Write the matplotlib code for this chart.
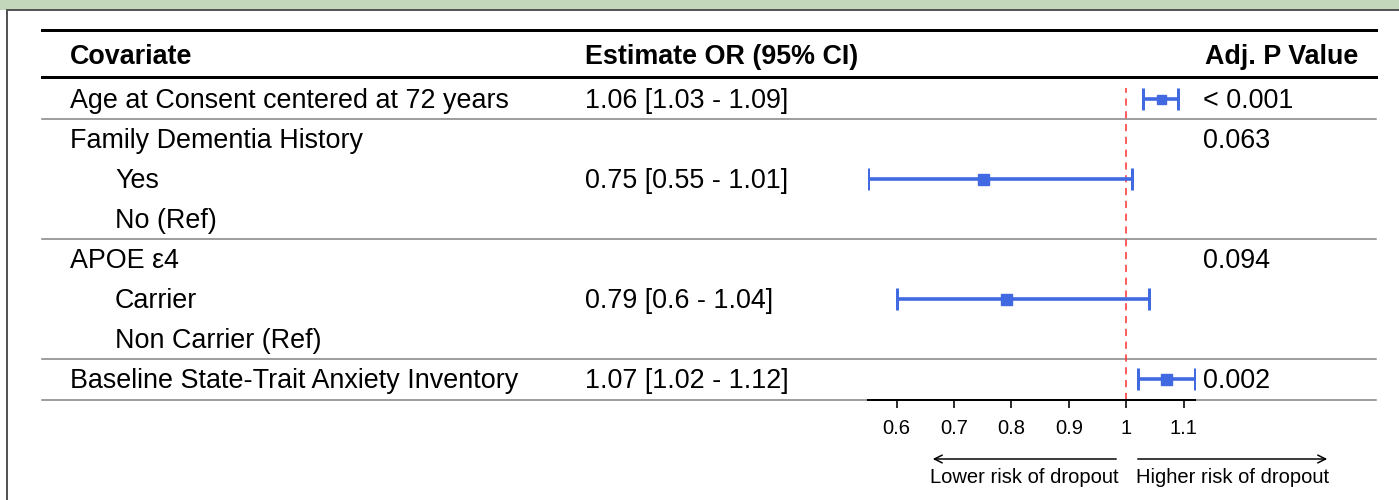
import numpy as np
import matplotlib
matplotlib.use("Agg")
import matplotlib.pyplot as plt
from matplotlib.lines import Line2D
from matplotlib.patches import Rectangle

plt.rcParams['font.family'] = ['Liberation Sans', 'DejaVu Sans']

# ---------------- data ----------------
covariates = ["Age at Consent centered at 72 years", "Family Dementia History", "Yes", "No (Ref)",
              "APOE \u03b54", "Carrier", "Non Carrier (Ref)", "Baseline State-Trait Anxiety Inventory"]
indented = [False, False, True, True, False, True, True, False]
estimate = [1.06, np.nan, 0.75, np.nan, np.nan, 0.79, np.nan, 1.07]
ci_low = [1.03, np.nan, 0.55, np.nan, np.nan, 0.60, np.nan, 1.02]
ci_high = [1.09, np.nan, 1.01, np.nan, np.nan, 1.04, np.nan, 1.12]
estimate_text = ["1.06 [1.03 - 1.09]", "", "0.75 [0.55 - 1.01]", "", "", "0.79 [0.6 - 1.04]", "", "1.07 [1.02 - 1.12]"]
p_values = ["< 0.001", "0.063", "", "", "0.094", "", "", "0.002"]
box_px = [9, 11, 11, 11, 11, 11, 11, 11]
headers = ["Covariate", "Estimate OR (95% CI)", "Adj. P Value"]
tick_values = [0.6, 0.7, 0.8, 0.9, 1.0, 1.1]
tick_labels = ["0.6", "0.7", "0.8", "0.9", "1", "1.1"]
ref_line = 1.0
arrow_labels = ["Lower risk of dropout", "Higher risk of dropout"]

# ---------------- layout ----------------
W, H = 1399, 500
fig = plt.figure(figsize=(W / 100, H / 100), dpi=100)
fig.patch.set_facecolor('white')
bg = fig.add_axes([0, 0, 1, 1])
bg.set_xlim(0, W)
bg.set_ylim(H, 0)
bg.axis('off')

PX = 0.72  # points per pixel
blue = '#4169E1'
FS = 19.35
FS_SMALL = 14.5

# frame
bg.add_patch(Rectangle((0, 0), W, 9.5, facecolor='#C3D7BB', edgecolor='none'))
bg.add_line(Line2D([6.5, W], [9.5, 9.5], color='#555555', lw=2 * PX))
bg.add_line(Line2D([6.5, 6.5], [9.5, H], color='#555555', lw=2 * PX))

row0, dy = 99, 40
x_left, x_right = 42, 1376
col_cov, col_sub, col_est, col_p = 70, 115, 585, 1203

# header
bg.text(col_cov, 64, headers[0], fontsize=FS, fontweight='bold', va='baseline', ha='left')
bg.text(col_est, 64, headers[1], fontsize=FS, fontweight='bold', va='baseline', ha='left')
bg.text(1358, 64, headers[2], fontsize=FS, fontweight='bold', va='baseline', ha='right')

for y, lw, c in [(30, 3, 'black'), (77, 3, 'black'), (119, 1.5, '#808080'),
                 (239, 1.5, '#808080'), (359, 1.5, '#808080'), (399.5, 1.5, '#808080')]:
    bg.add_line(Line2D([x_left, x_right], [y, y], color=c, lw=lw * PX))

for i, name in enumerate(covariates):
    yb = row0 + dy * i + 9.5
    bg.text(col_sub if indented[i] else col_cov, yb, name, fontsize=FS, va='baseline', ha='left')
    if estimate_text[i]:
        bg.text(col_est, yb, estimate_text[i], fontsize=FS, va='baseline', ha='left')
    if p_values[i]:
        bg.text(col_p, yb, p_values[i], fontsize=FS, va='baseline', ha='left')

# ---------------- forest axes ----------------
ax_l, ax_r = 868, 1195
ax_t, ax_b = 79, 399.5
ax = fig.add_axes([ax_l / W, 1 - ax_b / H, (ax_r - ax_l) / W, (ax_b - ax_t) / H])
ax.patch.set_alpha(0)
ax.set_xlim(min(v for v in ci_low if not np.isnan(v)), max(v for v in ci_high if not np.isnan(v)))
ax.set_ylim(len(covariates) - 0.5, -0.5)
for s in ['top', 'left', 'right']:
    ax.spines[s].set_visible(False)
ax.spines['bottom'].set_linewidth(2 * PX)
ax.set_yticks([])
ax.set_xticks(tick_values)
ax.set_xticklabels(tick_labels, fontsize=FS_SMALL)
ax.tick_params(axis='x', direction='out', length=8 * PX, width=1.6 * PX, pad=8.5)

ax.axvline(ref_line, ymin=0, ymax=(ax_b - 88) / (ax_b - ax_t), color='#FF3B3B', lw=1.6 * PX,
           ls=(0, (4.5, 3.5)), zorder=1)

for i in range(len(covariates)):
    if np.isnan(estimate[i]):
        continue
    ax.errorbar([estimate[i]], [i], xerr=[[estimate[i] - ci_low[i]], [ci_high[i] - estimate[i]]],
                fmt='s', color=blue, ecolor=blue, elinewidth=3.6 * PX, capsize=11 * PX,
                capthick=3 * PX, markersize=box_px[i] * PX, mec=blue, mfc=blue, zorder=3)

# arrows
ya, yt = 459, 483
bg.annotate('', xy=(930, ya), xytext=(1119, ya),
            arrowprops=dict(arrowstyle='->', color='black', lw=1.5 * PX, mutation_scale=14))
bg.annotate('', xy=(1330, ya), xytext=(1135, ya),
            arrowprops=dict(arrowstyle='->', color='black', lw=1.5 * PX, mutation_scale=14))
bg.text((930 + 1119) / 2, yt, arrow_labels[0], fontsize=FS_SMALL, ha='center', va='baseline')
bg.text((1135 + 1330) / 2, yt, arrow_labels[1], fontsize=FS_SMALL, ha='center', va='baseline')

fig.savefig('out.png', dpi=100, facecolor='white')
